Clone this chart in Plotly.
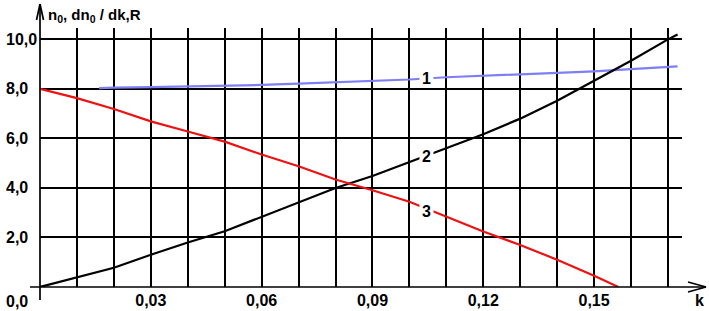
import plotly.graph_objects as go

# ---- data ----
k1 = [0.016, 0.02, 0.03, 0.04, 0.05, 0.06, 0.07, 0.08, 0.09, 0.10, 0.11, 0.12, 0.13, 0.14, 0.15, 0.16, 0.17, 0.1726]
n0 = [8.03, 8.05, 8.07, 8.09, 8.12, 8.16, 8.21, 8.26, 8.31, 8.38, 8.47, 8.53, 8.57, 8.63, 8.71, 8.80, 8.89, 8.91]

k2 = [0, 0.01, 0.02, 0.03, 0.04, 0.05, 0.06, 0.07, 0.08, 0.09, 0.10, 0.11, 0.12, 0.13, 0.14, 0.15, 0.16, 0.17, 0.1726]
dn0 = [0, 0.38, 0.78, 1.30, 1.80, 2.25, 2.83, 3.40, 4.00, 4.48, 5.05, 5.62, 6.17, 6.80, 7.52, 8.33, 9.14, 10.0, 10.2]

k3 = [0, 0.01, 0.02, 0.03, 0.04, 0.05, 0.06, 0.07, 0.08, 0.09, 0.10, 0.11, 0.12, 0.13, 0.14, 0.15, 0.1566]
R = [8.0, 7.63, 7.19, 6.69, 6.28, 5.87, 5.35, 4.88, 4.34, 3.91, 3.44, 2.85, 2.24, 1.70, 1.10, 0.45, 0.0]

curve_labels = ["1", "2", "3"]
label_k = 0.1047
label_vals = [8.44, 5.27, 3.05]

x_grid = [0.01 * i for i in range(1, 18)]
x_labels = {3: "0,03", 6: "0,06", 9: "0,09", 12: "0,12", 15: "0,15"}
x_ticktext = [x_labels.get(i, " ") for i in range(1, 18)]
y_grid = [2, 4, 6, 8, 10]
y_ticktext = ["2,0", "4,0", "6,0", "8,0", "10,0"]

FONT = "Liberation Sans"
FS = 16
BLUE = "#7f7ff5"
RED = "#ee1111"

fig = go.Figure()
fig.add_trace(go.Scatter(x=k1, y=n0, mode="lines", line=dict(color=BLUE, width=2.2)))
fig.add_trace(go.Scatter(x=k2, y=dn0, mode="lines", line=dict(color="black", width=2.2)))
fig.add_trace(go.Scatter(x=k3, y=R, mode="lines", line=dict(color=RED, width=2.2)))

W, H = 709, 311
L, Rm, T, B = 40, 27, 28, 24
pw, ph = W - L - Rm, H - T - B

def px(xp):
    return (xp - L) / pw

def py(yp):
    return (H - B - yp) / ph

tf = dict(family=FONT, size=FS, color="black", weight="bold")
ttl = dict(family=FONT, size=15, color="black", weight="bold")
annotations = []
for lab, v in zip(curve_labels, label_vals):
    annotations.append(dict(x=label_k, y=v, xref="x", yref="y", text=lab, showarrow=False,
                            bgcolor="white", font=tf, borderpad=0, width=13))
for v, t in zip(y_grid, y_ticktext):
    annotations.append(dict(x=px(4), y=v, xref="paper", yref="y", text=t, showarrow=False,
                            xanchor="left", yanchor="middle", font=tf))
annotations.append(dict(x=px(4), y=0, xref="paper", yref="y", text="0,0", showarrow=False,
                        xanchor="left", yanchor="middle", yshift=-14, font=tf))
annotations.append(dict(x=px(46), y=py(15), xref="paper", yref="paper",
                        text="n<sub>0</sub>, dn<sub>0</sub> / dk,R", showarrow=False,
                        xanchor="left", yanchor="middle", font=ttl))
annotations.append(dict(x=px(700), y=py(300), xref="paper", yref="paper", text="k",
                        showarrow=False, xanchor="center", yanchor="middle", font=tf))

lw = 1.7
shapes = [
    dict(type="line", xref="paper", yref="paper", x0=0, x1=0, y0=py(300), y1=py(4),
         line=dict(color="black", width=lw)),
    dict(type="line", xref="paper", yref="paper", x0=px(36.5), x1=px(40), y0=py(20), y1=py(4),
         line=dict(color="black", width=lw)),
    dict(type="line", xref="paper", yref="paper", x0=px(43.5), x1=px(40), y0=py(20), y1=py(4),
         line=dict(color="black", width=lw)),
    dict(type="line", xref="paper", yref="paper", x0=px(30), x1=px(706), y0=0, y1=0,
         line=dict(color="black", width=lw)),
    dict(type="line", xref="paper", yref="paper", x0=px(688), x1=px(706), y0=py(282), y1=py(287),
         line=dict(color="black", width=lw)),
    dict(type="line", xref="paper", yref="paper", x0=px(688), x1=px(706), y0=py(292), y1=py(287),
         line=dict(color="black", width=lw)),
]

fig.update_layout(
    width=W, height=H, template="none",
    margin=dict(l=L, r=Rm, t=T, b=B, pad=0),
    paper_bgcolor="white", plot_bgcolor="white",
    showlegend=False,
    annotations=annotations, shapes=shapes,
    font=tf,
)
fig.update_xaxes(range=[0, 0.1738], tickvals=x_grid, ticktext=x_ticktext,
                 showgrid=True, gridcolor="black", gridwidth=lw, zeroline=False, showline=False,
                 ticks="", automargin=False, tickfont=tf, ticklabelstandoff=2)
fig.update_yaxes(range=[0, 10.46], tickvals=y_grid, showticklabels=False,
                 showgrid=True, gridcolor="black", gridwidth=lw, zeroline=False, showline=False,
                 ticks="", automargin=False)

fig.write_html("out.html", post_script="document.body.style.margin='0';",
               config={"displayModeBar": False})
